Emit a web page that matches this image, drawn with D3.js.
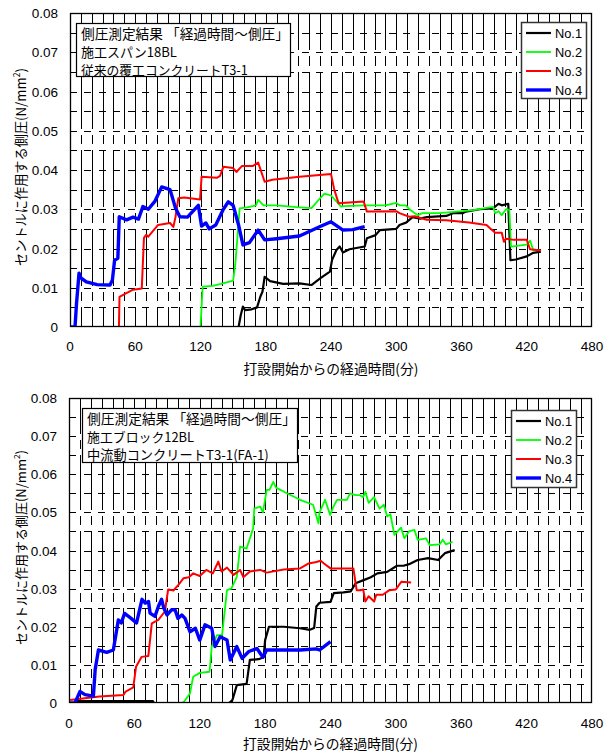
<!DOCTYPE html>
<html>
<head>
<meta charset="utf-8">
<script src="https://cdn.jsdelivr.net/npm/d3@7"></script>
<style>
  html, body { margin: 0; padding: 0; background: #fff; }
  svg { display: block; }
  text { font-family: "Liberation Sans", Arial, "Noto Sans CJK JP", sans-serif; fill: #000; }
  .jp { font-family: "Noto Sans CJK JP", "Liberation Sans", sans-serif; }
</style>
</head>
<body>
<svg id="chart" width="609" height="752"></svg>
<script>
// ---- data: elapsed minutes since placing vs. lateral pressure on the form (N/mm2) ----
const seriesNames = ["No.1", "No.2", "No.3", "No.4"];
const xTicks = [0, 60, 120, 180, 240, 300, 360, 420, 480];
const yTicks = [0, 0.01, 0.02, 0.03, 0.04, 0.05, 0.06, 0.07, 0.08];
const yTickLabels = ["0", "0.01", "0.02", "0.03", "0.04", "0.05", "0.06", "0.07", "0.08"];
const xAxisTitle = "打設開始からの経過時間(分)";
const yAxisTitle = "セントルに作用する側圧(N/mm";

const titleA = ["側圧測定結果 「経過時間～側圧」", "施工スパン18BL", "従来の覆工コンクリートT3-1"];
const titleB = ["側圧測定結果 「経過時間～側圧」", "施工ブロック12BL", "中流動コンクリートT3-1(FA-1)"];

// span 18BL, conventional lining concrete
const a1 = [[0,0],[155,0],[157,0.003],[159,0.0052],[161,0.0043],[167,0.0045],[172,0.005],[175,0.0077],[177,0.009],[179,0.0128],[184,0.0117],[196,0.011],[211,0.0111],[222,0.0107],[230,0.0124],[239,0.0141],[241,0.0171],[245,0.0196],[248,0.0205],[251,0.019],[257,0.0198],[271,0.0205],[273,0.0226],[281,0.0234],[285,0.0247],[300,0.025],[303,0.026],[309,0.0266],[315,0.028],[322,0.0276],[328,0.028],[346,0.0283],[352,0.029],[361,0.029],[364,0.0294],[377,0.030],[389,0.0302],[394,0.0314],[397,0.031],[403,0.0314],[405,0.017],[410,0.0172],[420,0.018],[426,0.0189],[433,0.0192]];
const a2 = [[120,0],[122,0.0103],[131,0.0105],[139,0.011],[150,0.0118],[152,0.016],[154,0.023],[156,0.0302],[163,0.0305],[171,0.031],[173,0.0324],[178,0.031],[190,0.031],[211,0.0305],[222,0.0303],[230,0.0328],[234,0.034],[240,0.0335],[245,0.032],[249,0.0307],[252,0.0308],[270,0.031],[290,0.031],[300,0.0316],[303,0.031],[309,0.031],[312,0.030],[317,0.029],[320,0.0285],[324,0.029],[340,0.029],[371,0.0298],[389,0.0306],[391,0.029],[394,0.0295],[397,0.0285],[401,0.030],[404,0.0298],[405.5,0.0205],[420,0.021],[423,0.022],[426,0.0196],[432,0.0195]];
const a3 = [[6,0],[45,0],[45.5,0.0077],[51,0.0085],[58,0.0095],[66,0.0098],[68,0.0227],[70,0.0235],[72,0.023],[81,0.026],[92,0.0265],[95,0.0255],[97,0.028],[99.6,0.0328],[105,0.033],[119.6,0.0325],[121,0.0383],[135,0.038],[138,0.0385],[141,0.0408],[150,0.0405],[153,0.0395],[158,0.041],[168,0.041],[173,0.0419],[179,0.037],[186,0.0375],[211,0.0383],[240,0.039],[243,0.035],[247,0.0315],[260,0.0318],[270,0.032],[273,0.0294],[300,0.0295],[303,0.029],[312,0.0281],[317,0.0282],[328,0.0273],[346,0.0272],[367,0.0266],[383,0.026],[386,0.0252],[391,0.024],[397,0.024],[399,0.0217],[401,0.0225],[408,0.0222],[420,0.0222],[423,0.0198],[433,0.0195]];
const a4 = [[0,0],[4.6,0],[6,0.006],[8.3,0.0137],[10,0.0125],[15,0.0115],[25,0.0108],[36.8,0.0107],[39,0.012],[41,0.017],[44,0.0175],[45.3,0.0281],[52,0.0273],[58,0.028],[63,0.0275],[67,0.0307],[72,0.030],[78,0.032],[84.3,0.0357],[92,0.035],[97,0.0303],[101,0.0281],[108,0.028],[118,0.031],[121,0.0257],[125,0.0265],[128,0.025],[134,0.026],[141,0.030],[145.6,0.0319],[150,0.031],[155,0.026],[159,0.0209],[165,0.0215],[173,0.0247],[179,0.0222],[190,0.0225],[211,0.0232],[230,0.0256],[240,0.0268],[251,0.0247],[260,0.0248],[271,0.0256]];

// block 12BL, medium-fluidity concrete
const b1 = [[5,0.0005],[77,0.0005],[78,0],[147,0],[150,0.0008],[154,0.0047],[163,0.005],[166,0.0113],[174,0.0115],[178.6,0.012],[180,0.0165],[183.5,0.020],[197,0.020],[212,0.0196],[221,0.0192],[225,0.0197],[227,0.0253],[230,0.0263],[240,0.0265],[243,0.0288],[252,0.029],[258.7,0.0293],[263,0.0314],[271,0.0323],[277,0.033],[283,0.034],[292,0.0344],[301,0.036],[307,0.036],[313,0.0365],[320,0.0375],[329.6,0.038],[338.8,0.0375],[345,0.0393],[354,0.0401]];
const b2 = [[10,0],[104,0],[106,0.0005],[111,0.0025],[114,0.0069],[120,0.0079],[129,0.0082],[131,0.0148],[135.8,0.0178],[140.5,0.0178],[145,0.0296],[149,0.03],[154,0.0331],[157,0.041],[163,0.0405],[169,0.0458],[170,0.051],[175.5,0.0515],[178,0.050],[181.4,0.0559],[184,0.0559],[187.5,0.058],[190,0.0565],[200,0.055],[212,0.0533],[224,0.052],[229,0.0471],[230,0.050],[235,0.0533],[239.7,0.0493],[242.7,0.0515],[246,0.0533],[255,0.0533],[258,0.055],[263,0.0545],[267,0.0545],[270,0.054],[272,0.0554],[275,0.0525],[280,0.054],[285,0.051],[289,0.052],[292,0.0489],[295,0.0495],[298.6,0.0441],[301.6,0.045],[304.7,0.046],[307.8,0.0432],[312,0.045],[317,0.0454],[320,0.0428],[327.7,0.0432],[331,0.0414],[340,0.0416],[343,0.0428],[346,0.0416],[352,0.0423]];
const b3 = [[1,0.0008],[28,0.0017],[50,0.0021],[52,0.003],[59,0.0041],[61.5,0.0095],[66.7,0.0121],[72.8,0.0123],[76,0.0209],[82,0.0218],[88,0.024],[91,0.0298],[95.8,0.0295],[100.4,0.031],[105,0.0327],[110,0.033],[114,0.034],[120,0.0333],[126,0.0349],[132,0.034],[137,0.0371],[140,0.0345],[145,0.0355],[151,0.0336],[157,0.0349],[160,0.033],[166,0.0345],[175.5,0.0349],[181.4,0.0342],[197,0.035],[212,0.0353],[220,0.0366],[227,0.037],[231,0.0373],[234,0.0366],[240,0.0353],[261,0.0353],[264,0.0296],[268,0.0296],[270,0.0298],[272,0.0266],[275,0.028],[280,0.0266],[282,0.0284],[288,0.0284],[294,0.0296],[300,0.0298],[305,0.0318],[314,0.0316]];
const b4 = [[0,0],[5.5,0],[10,0.003],[14.7,0.0022],[22.4,0.0018],[24,0.0087],[27,0.0139],[34.6,0.0133],[40.7,0.0139],[45.3,0.0218],[48,0.021],[51,0.0235],[57,0.0222],[62,0.021],[67,0.0272],[70,0.0262],[73,0.0266],[74.4,0.0236],[78.9,0.0227],[82,0.0253],[85,0.0272],[87,0.0249],[90,0.0231],[94.3,0.0245],[97.4,0.0244],[100,0.0222],[103.5,0.0231],[106.5,0.0222],[111,0.0187],[116,0.0196],[120,0.0165],[124.8,0.0205],[131,0.0196],[134,0.0148],[138.7,0.0174],[145,0.0165],[148,0.0113],[154,0.0148],[158.9,0.0117],[165,0.0135],[172.5,0.0143],[178,0.012],[181.4,0.0139],[212,0.0139],[227,0.0142],[230,0.0139],[240,0.0161]];

// ---- drawing ----
const styles = [
  { color: "#000000", width: 2.2 },
  { color: "#00ff00", width: 1.8 },
  { color: "#ff0000", width: 2 },
  { color: "#0000ff", width: 3.4 }
];

const svg = d3.select("#chart");

const panels = [
  { top: 13, bottom: 327, left: 70, right: 592, series: [a1, a2, a3, a4], title: titleA,
    titleBox: { x: 76, y: 23, w: 214, h: 53 }, titleWidths: [208, 96, 167],
    legend: { x: 521, y: 22, w: 65, h: 76 },
    xLabelY: 351, xTitleY: 374, yTitleLen: 198, id: "p1" },
  { top: 398, bottom: 703, left: 69, right: 592, series: [b1, b2, b3, b4], title: titleB,
    titleBox: { x: 82, y: 408, w: 215, h: 54 }, titleWidths: [209, 107, 182],
    legend: { x: 511, y: 410, w: 65, h: 77 },
    xLabelY: 728, xTitleY: 749, yTitleLen: 195, id: "p2" }
];

// scale a text's font so its advance equals the wanted width
function fitWidth(sel, base, want) {
  sel.attr("font-size", base);
  const w = sel.node().getComputedTextLength();
  if (w > 0) sel.attr("font-size", (base * want / w).toFixed(2));
  return sel;
}

panels.forEach(p => {
  const x = d3.scaleLinear().domain([0, 480]).range([p.left, p.right]);
  const y = d3.scaleLinear().domain([0, 0.08]).range([p.bottom, p.top]);
  const g = svg.append("g");
  const rowH = (p.bottom - p.top) / 16;
  const colW = x(10) - x(0);
  const plotW = p.right - p.left, plotH = p.bottom - p.top;

  // dash pattern along a grid line of given length: [start, end] pairs
  function dashes(len, pattern, offset) {
    const out = [];
    let pos = -offset, k = 0;
    while (pos < len) {
      const seg = pattern[k % pattern.length];
      if (k % 2 === 0) {
        const a = Math.max(0, pos), b = Math.min(len, pos + seg);
        if (b > a) out.push([a, b]);
      }
      pos += seg; k++;
    }
    return out;
  }

  // vertical grid every 10 min: long dash spanning three rows, then a short dash
  const longD = rowH * 3 - 2, gapD = 6, shortD = rowH * 4 - longD - 2 * gapD;
  const vPattern = [longD, gapD, shortD, gapD];
  const vSegs = [];
  d3.range(10, 480, 10).forEach(t => {
    const px = Math.round(x(t)) + 0.5;
    dashes(plotH, vPattern, rowH).forEach(([a, b]) => vSegs.push([px, p.top + a, px, p.top + b]));
  });
  // horizontal grid every 0.005: short dashes, three for every four columns
  const hPattern = [7, colW * 4 / 3 - 7];
  const hSegs = [];
  d3.range(1, 16).map(i => i * 0.005).forEach(v => {
    const py = Math.round(y(v)) + 0.5;
    dashes(plotW, hPattern, 0).forEach(([a, b]) => hSegs.push([p.left + Math.round(a), py, p.left + Math.round(b), py]));
  });
  // major ticks inside the frame
  xTicks.slice(1, -1).forEach(t => {
    const px = Math.round(x(t)) + 0.5;
    vSegs.push([px, p.bottom, px, p.bottom - 10]);
  });
  g.append("g").attr("shape-rendering", "crispEdges")
    .selectAll("line").data(vSegs.concat(hSegs)).join("line")
    .attr("x1", d => d[0]).attr("y1", d => d[1]).attr("x2", d => d[2]).attr("y2", d => d[3])
    .attr("stroke", "#000").attr("stroke-width", 1);

  // series
  const clipId = "clip-" + p.id;
  svg.append("clipPath").attr("id", clipId).append("rect")
    .attr("x", p.left).attr("y", p.top).attr("width", plotW).attr("height", plotH);
  const line = d3.line().x(d => x(d[0])).y(d => y(d[1]));
  const sg = g.append("g").attr("clip-path", `url(#${clipId})`);
  p.series.forEach((s, i) => {
    sg.append("path").datum(s).attr("d", line)
      .attr("fill", "none").attr("stroke", styles[i].color)
      .attr("stroke-width", styles[i].width).attr("stroke-linejoin", "round");
  });

  // frame
  g.append("rect").attr("x", p.left + 0.5).attr("y", p.top + 0.5)
    .attr("width", plotW - 1).attr("height", plotH - 1)
    .attr("fill", "none").attr("stroke", "#000").attr("stroke-width", 1.3);

  // y tick labels
  g.append("g").selectAll("text").data(yTicks).join("text")
    .attr("x", p.left - 12).attr("y", d => y(d) + 5)
    .attr("text-anchor", "end").attr("font-size", 13.5)
    .text((d, i) => yTickLabels[i]);

  // x tick labels
  g.append("g").selectAll("text").data(xTicks).join("text")
    .attr("x", d => x(d)).attr("y", p.xLabelY)
    .attr("text-anchor", "middle").attr("font-size", 13.5)
    .text(d => d);

  // axis titles
  const xt = g.append("text").attr("class", "jp")
    .attr("x", (p.left + p.right) / 2).attr("y", p.xTitleY)
    .attr("text-anchor", "middle").text(xAxisTitle);
  fitWidth(xt, 14, 175);
  const yt = g.append("text").attr("class", "jp")
    .attr("transform", `translate(26,${(p.top + p.bottom) / 2 - 3}) rotate(-90)`)
    .attr("text-anchor", "middle");
  yt.append("tspan").text(yAxisTitle);
  yt.append("tspan").attr("font-size", "0.65em").attr("dy", -6).text("2");
  yt.append("tspan").attr("dy", 6).text(")");
  fitWidth(yt, 14, p.yTitleLen);

  // title box
  const tb = p.titleBox;
  g.append("rect").attr("x", tb.x + 0.5).attr("y", tb.y + 0.5).attr("width", tb.w).attr("height", tb.h)
    .attr("fill", "#fff").attr("stroke", "#000").attr("stroke-width", 1.2);
  p.title.forEach((t, i) => {
    const tt = g.append("text").attr("class", "jp").attr("x", tb.x + 5)
      .attr("y", tb.y + 15.5 + i * 18.3).text(t);
    fitWidth(tt, 13.5, p.titleWidths[i]);
  });

  // legend
  const lg = p.legend;
  g.append("rect").attr("x", lg.x + 0.5).attr("y", lg.y + 0.5).attr("width", lg.w).attr("height", lg.h)
    .attr("fill", "#fff").attr("stroke", "#333").attr("stroke-width", 1.5);
  seriesNames.forEach((n, i) => {
    const cy = lg.y + 11 + i * 19;
    g.append("line").attr("x1", lg.x + 5).attr("x2", lg.x + 30).attr("y1", cy).attr("y2", cy)
      .attr("stroke", styles[i].color).attr("stroke-width", styles[i].width);
    g.append("text").attr("x", lg.x + 34).attr("y", cy + 5).attr("font-size", 12.8).text(n);
  });
});
</script>
</body>
</html>
